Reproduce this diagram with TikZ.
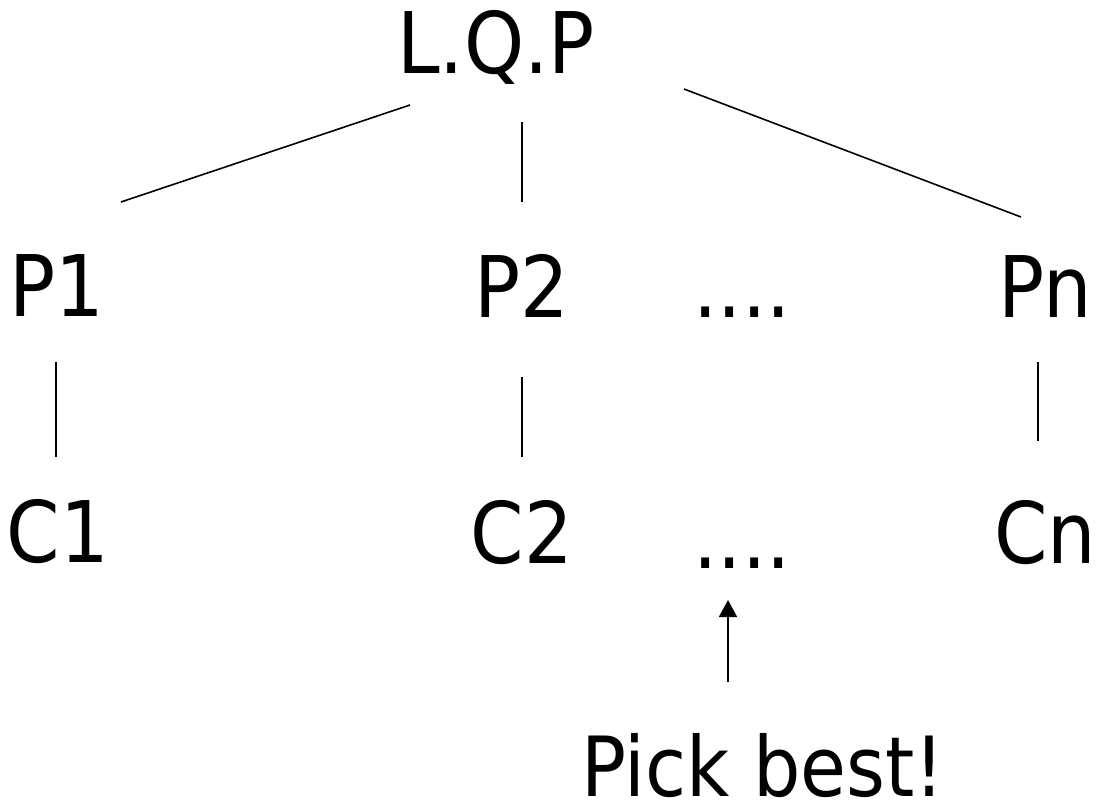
\documentclass[tikz,border=0pt]{standalone}
\usepackage{fontspec}
\setmainfont{DejaVu Sans}[FakeStretch=0.9]
\usetikzlibrary{arrows.meta}
\begin{document}
\begin{tikzpicture}[x=1pt,y=-1pt,
  lbl/.style={anchor=base,inner sep=0pt,font=\fontsize{85}{100}\selectfont},
  conn/.style={line width=1.6pt},
  arr/.style={line width=2pt,-{Triangle[length=17pt,width=18pt]}}]
\useasboundingbox (0,0) rectangle (1096,811);
\node[lbl] (lqp) at (496,73) {L.Q.P};
\node[lbl] (p1) at (57,316) {P1};
\node[lbl] (p2) at (522,317) {P2};
\node[lbl] (pd) at (742,317) {....};
\node[lbl] (pn) at (1045,317) {Pn};
\node[lbl] (c1) at (58,562) {C1};
\node[lbl] (c2) at (522,563) {C2};
\node[lbl] (cd) at (742,568) {....};
\node[lbl] (cn) at (1045,563) {Cn};
\node[lbl,font=\fontsize{83}{100}\selectfont] (pick) at (763,796) {Pick best!};
\coordinate (a1) at (410,105); \coordinate (b1) at (121,202);
\coordinate (a2) at (522,122); \coordinate (b2) at (522,202);
\coordinate (a3) at (684,89);  \coordinate (b3) at (1021,217);
\coordinate (d1) at (56,362);  \coordinate (e1) at (56,457);
\coordinate (d2) at (522,377); \coordinate (e2) at (522,457);
\coordinate (d3) at (1038,362); \coordinate (e3) at (1038,441);
\coordinate (f) at (728,682); \coordinate (g) at (728,600);
\draw[conn] (a1) -- (b1);
\draw[conn] (a2) -- (b2);
\draw[conn] (a3) -- (b3);
\draw[conn] (d1) -- (e1);
\draw[conn] (d2) -- (e2);
\draw[conn] (d3) -- (e3);
\draw[arr] (f) -- (g);
\end{tikzpicture}
\end{document}
